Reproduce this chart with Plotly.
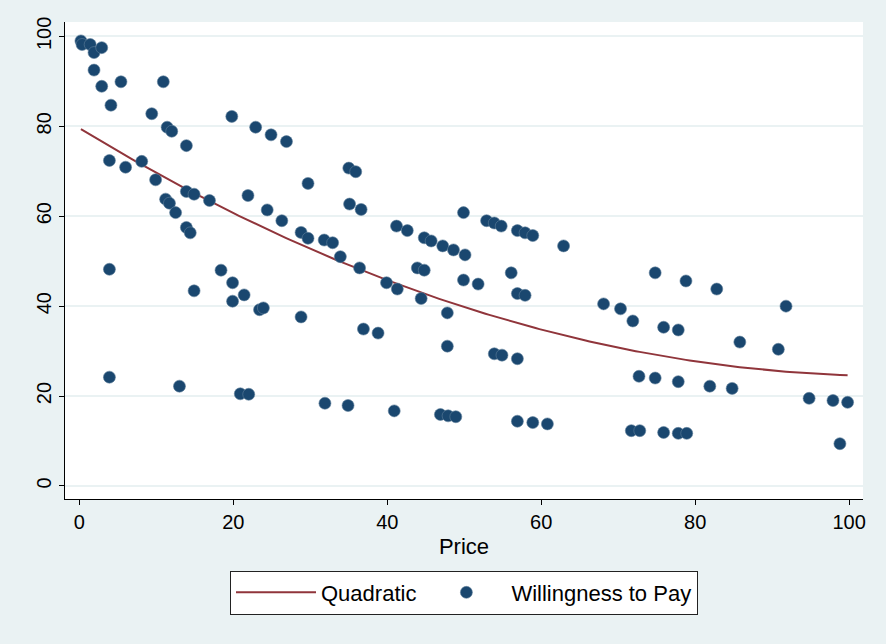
import numpy as np
import plotly.graph_objects as go

# Price (x) and Willingness to Pay (y)
price = [0.2, 0.35, 1.4, 1.9, 2.9, 1.9, 2.9, 5.4, 4.1, 10.9, 9.4, 11.4, 12.0, 13.9, 19.8, 22.9, 24.9, 26.9,
         3.9, 6.0, 8.1, 9.9, 11.2, 11.7, 12.5, 13.9, 14.9, 16.9, 13.9, 14.4, 21.9, 24.4, 26.3, 28.8, 29.7, 29.7,
         35.0, 35.9, 35.1, 36.6, 31.8, 32.9, 33.9, 36.4, 39.9, 41.3, 44.4, 41.2, 42.6, 44.8, 45.7, 47.2, 48.6,
         50.1, 49.9, 52.9, 53.9, 54.8, 56.9, 57.9, 58.9, 62.9, 43.9, 44.8, 49.9, 51.8, 56.1, 56.9, 57.9,
         28.8, 36.9, 38.8, 47.8, 47.8, 53.9, 54.9, 56.9, 31.9, 34.9, 40.9, 46.9, 47.9, 48.9, 56.9, 58.9, 60.8,
         3.9, 14.9, 18.4, 19.9, 19.9, 21.4, 23.4, 23.9, 3.9, 13.0, 20.9, 22.0,
         68.1, 70.3, 71.9, 74.8, 78.8, 82.8, 75.9, 77.8, 85.8, 90.8, 91.8, 72.7, 74.8, 77.8, 81.9, 84.8,
         94.8, 97.9, 99.8, 71.7, 72.8, 75.9, 77.8, 78.9, 98.8]
wtp = [99.0, 98.2, 98.2, 96.4, 97.5, 92.5, 88.9, 89.9, 84.7, 89.9, 82.8, 79.8, 78.9, 75.7, 82.2, 79.8, 78.1, 76.6,
       72.4, 70.9, 72.2, 68.1, 63.8, 62.9, 60.8, 65.5, 64.9, 63.5, 57.5, 56.3, 64.6, 61.4, 59.0, 56.4, 55.1, 67.3,
       70.7, 69.9, 62.7, 61.5, 54.7, 54.1, 51.0, 48.5, 45.2, 43.8, 41.7, 57.8, 56.8, 55.2, 54.5, 53.4, 52.5,
       51.4, 60.8, 59.0, 58.5, 57.8, 56.8, 56.3, 55.7, 53.4, 48.5, 48.0, 45.8, 44.9, 47.4, 42.8, 42.4,
       37.6, 34.9, 34.0, 38.5, 31.1, 29.4, 29.1, 28.3, 18.4, 17.9, 16.7, 15.9, 15.6, 15.4, 14.4, 14.1, 13.8,
       48.2, 43.4, 48.0, 45.2, 41.1, 42.5, 39.2, 39.6, 24.2, 22.2, 20.5, 20.4,
       40.5, 39.4, 36.7, 47.4, 45.6, 43.8, 35.3, 34.7, 32.0, 30.4, 40.0, 24.4, 24.0, 23.2, 22.2, 21.7,
       19.5, 19.0, 18.6, 12.3, 12.3, 11.9, 11.7, 11.7, 9.4]

x_ticks = [0, 20, 40, 60, 80, 100]
y_ticks = [0, 20, 40, 60, 80, 100]

# Quadratic fit (as Stata's qfit) over the range of price
coef = np.polyfit(price, wtp, 2)
xf = np.linspace(min(price), max(price), 200)
yf = np.polyval(coef, xf)

BG = "#EAF2F3"
NAVY = "#1A476F"
MAROON = "#90353B"
FONT = "Liberation Sans, Arial, sans-serif"

fig = go.Figure()
fig.add_trace(go.Scatter(x=xf, y=yf, mode="lines", name="Quadratic",
                         line=dict(color=MAROON, width=2)))
fig.add_trace(go.Scatter(x=price, y=wtp, mode="markers", name="Willingness to Pay",
                         marker=dict(color=NAVY, size=12, line=dict(width=0.6, color="#5f7f9a"))))

fig.update_layout(
    width=886, height=644,
    margin=dict(l=65, r=23, t=22, b=145),
    paper_bgcolor=BG, plot_bgcolor="white",
    font=dict(family=FONT, size=20, color="#000"),
    showlegend=True,
    legend=dict(orientation="h", x=0.5, xanchor="center", y=-0.15, yanchor="top",
                bgcolor="white", bordercolor="#222", borderwidth=1,
                font=dict(size=22), itemwidth=80, entrywidth=0,
                traceorder="normal"),
    xaxis=dict(range=[-1.87, 101.8], tickvals=x_ticks, showgrid=False, zeroline=False,
               showline=True, linecolor="#000", linewidth=1, ticks="outside", ticklen=5,
               tickcolor="#000", title=dict(text="Price", font=dict(size=22), standoff=6),
               tickfont=dict(size=20)),
    yaxis=dict(range=[-2.9, 103.2], tickvals=y_ticks, showgrid=True, gridcolor=BG, gridwidth=1.5,
               zeroline=False, showline=True, linecolor="#000", linewidth=1, ticks="outside",
               ticklen=5, tickcolor="#000", tickangle=-90, tickfont=dict(size=20)),
)

fig.write_html("out.html")
